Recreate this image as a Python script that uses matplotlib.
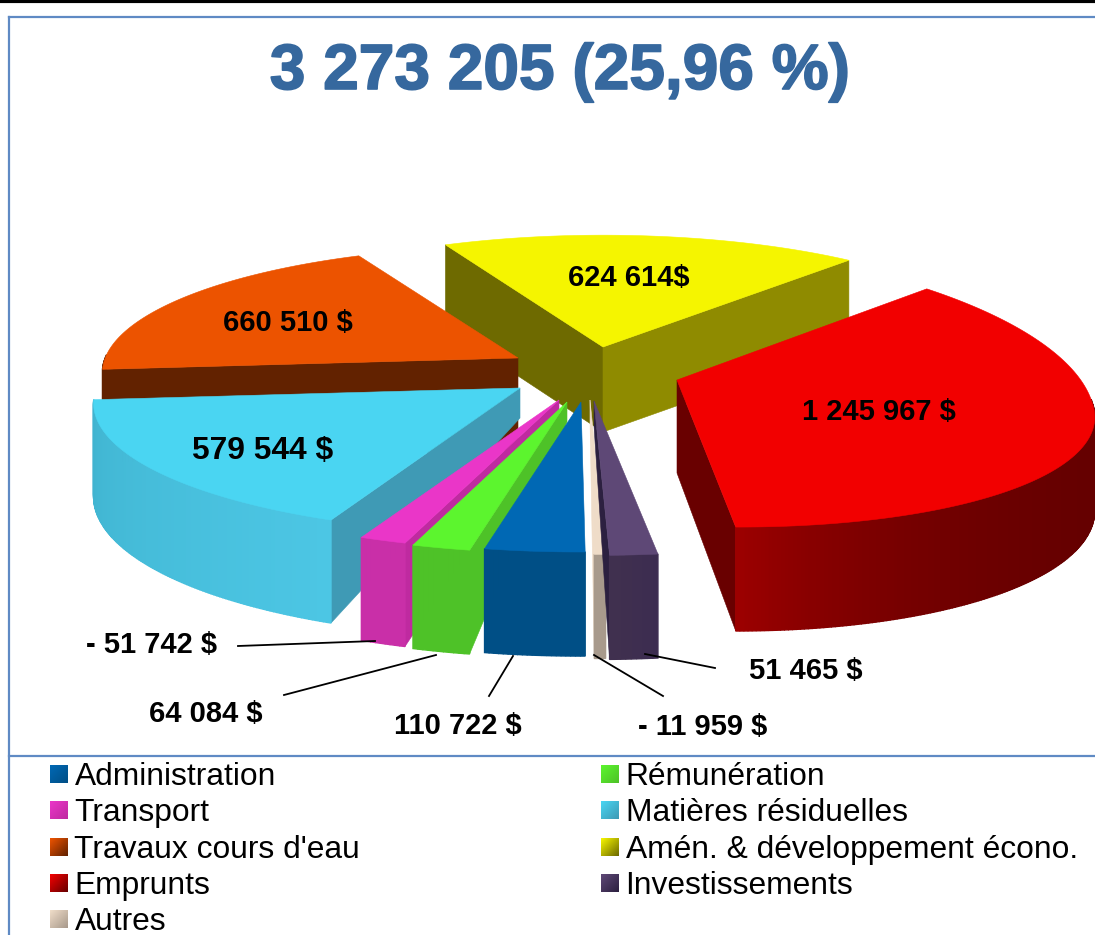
import numpy as np
import matplotlib
matplotlib.use("Agg")
import matplotlib.pyplot as plt
import matplotlib.patheffects as pe
from matplotlib.colors import to_rgb

plt.rcParams['font.family'] = ['Liberation Sans', 'DejaVu Sans']

# slices, clockwise from the top right edge of the red one
names = ["Emprunts", "Investissements", "Autres", "Administration", "Rémunération",
         "Transport", "Matières résiduelles", "Travaux cours d'eau",
         "Amén. & développement écono."]
values = [1245967, 51465, -11959, 110722, 64084, -51742, 579544, 660510, 624614]
labels = ["1 245 967 $", "51 465 $", "- 11 959 $", "110 722 $", "64 084 $",
          "- 51 742 $", "579 544 $", "660 510 $", "624 614$"]
legend_order = ["Administration", "Rémunération", "Transport", "Matières résiduelles",
                "Travaux cours d'eau", "Amén. & développement écono.", "Emprunts",
                "Investissements", "Autres"]
title = "3 273 205 (25,96 %)"

# colours
top_col = ["#f20000", "#5e4876", "#efdcc8", "#0068b4", "#5cf52e", "#ea36c8", "#4ad5f2", "#ec5300", "#f5f500"]
side_a = ["#640000", "#3c2c50", "#a89a8c", "#004f86", "#4ec228", "#c92fa8", "#4cc6e4", "#622200", "#8f8b00"]
side_b = ["#9c0000", "#40304f", "#a89a8c", "#004f86", "#4ec228", "#c92fa8", "#40b4d0", "#622200", "#8f8b00"]
wall_col = ["#690000", "#2c2040", "#a89a8c", "#004f86", "#4ec228", "#bf2aa0", "#3f9ab5", "#622200", "#6e6a00"]
wall_col2 = ["#690000", "#2c2040", "#efdcc8", "#004f86", "#4ec228", "#bf2aa0", "#3f9ab5", "#622200", "#8f8b00"]

# pie layout: where each exploded slice has its tip, in pixels
tip_x = [677, 594, 590, 581, 567, 559, 520, 518, 603]
tip_y = [380, 401, 400, 402, 402, 400, 388, 358, 347]
radius_x = [0.965, 1.05, 1.05, 1.02, 1.03, 1.03, 0.985, 0.96, 0.95]
radius_y = [0.99, 1.05, 1.05, 1.02, 1.03, 1.03, 0.99, 0.96, 0.96]
far_y = [1.18, 1, 1, 1, 1, 1, 1, 1, 1]
tilt = [22, 0, 0, 0, 0, 0, 0, 0, 0]
tip_depth = [93, 25, 20, 15, 20, 15, 30, 92, 85]
draw_order = [8, 7, 0, 6, 5, 4, 3, 2, 1]
start_angle = 49.1
RX, RY, PERSP, DEPTH = 430, 130, 0.116, 92

fig = plt.figure(figsize=(10.95, 9.35), dpi=100)
ax = fig.add_axes([0, 0, 1, 1])
ax.set_xlim(0, 1095)
ax.set_ylim(935, 0)
ax.axis("off")


def rim(i, th):
    w = 1 + PERSP * np.sin(th)
    x = tip_x[i] + radius_x[i] * RX * np.cos(th) / w
    ry = radius_y[i] * np.where(np.sin(th) > 0, far_y[i], 1)
    y = tip_y[i] - ry * RY * np.sin(th) / w + tilt[i] * np.cos(th)
    return x, y, DEPTH / w


def face(xs, ys, col, z=2, lw=0.4):
    ax.fill(xs, ys, color=col, lw=lw, zorder=z)


sweep = np.abs(values) / np.abs(values).sum() * 360
ends = start_angle - np.concatenate([[0], np.cumsum(sweep)])

for n, i in enumerate(draw_order):
    z = 2 + n
    a0, a1 = np.radians(ends[i]), np.radians(ends[i + 1])
    th = np.linspace(a0, a1, max(int(sweep[i]) * 2, 6))
    x, y, d = rim(i, th)
    mx, my = x[len(x) // 2], y[len(x) // 2]

    # the two flat walls, only if they look to the viewer
    for k, col in ((0, wall_col[i]), (-1, wall_col2[i])):
        dx = x[k] - tip_x[i]
        if abs(dx) < 1:
            continue
        line_y = tip_y[i] + (y[k] - tip_y[i]) * (mx - tip_x[i]) / dx
        if my < line_y:
            face([tip_x[i], x[k], x[k], tip_x[i]],
                 [tip_y[i], y[k], y[k] + d[k], tip_y[i] + tip_depth[i]], col, z)

    # curved side, strip by strip
    ca, cb = np.array(to_rgb(side_a[i])), np.array(to_rgb(side_b[i]))
    for j in range(len(th) - 1):
        if np.sin(th[j]) > 0.02:
            continue
        t = j / max(len(th) - 2, 1)
        if i == 0:
            t = t ** 6
        c = tuple(ca + (cb - ca) * t)
        face([x[j], x[j + 1], x[j + 1], x[j]],
             [y[j], y[j + 1], y[j + 1] + d[j + 1], y[j] + d[j]], c, z, lw=1.0)

    # top
    face(np.r_[tip_x[i], x], np.r_[tip_y[i], y], top_col[i], z)

# value labels
label_x = [879, 806, 703, 458, 206, 151, 263, 288, 629]
label_y = [412, 671, 727, 726, 714, 645, 451, 323, 278]
label_size = [21, 21, 21, 21, 21, 21, 22.9, 21, 21]
for lb, lx, ly, ls in zip(labels, label_x, label_y, label_size):
    ax.text(lx, ly, lb, ha="center", va="center", fontsize=ls, fontweight="bold",
            color="black", zorder=30)

# leader lines
ax.plot([238, 375], [646, 641], color="black", lw=1.3, zorder=30)
ax.plot([284, 436], [695, 655], color="black", lw=1.3, zorder=30)
ax.plot([489, 513], [696, 656], color="black", lw=1.3, zorder=30)
ax.plot([663, 594], [696, 655], color="black", lw=1.3, zorder=30)
ax.plot([715, 645], [668, 654], color="black", lw=1.3, zorder=30)

tt = ax.text(560, 72, title, ha="center", va="center", fontsize=46.1, fontweight="bold",
             color="#36689e", zorder=30)
tt.set_path_effects([pe.withStroke(linewidth=1.2, foreground="#36689e")])

# frame
ax.plot([0, 1095], [1, 1], color="black", lw=3, zorder=40)
frame_col = "#5f8ac4"
ax.plot([9, 9], [17, 935], color=frame_col, lw=1.6, zorder=40)
ax.plot([9, 1095], [17, 17], color=frame_col, lw=1.6, zorder=40)
ax.plot([9, 1095], [756, 756], color=frame_col, lw=1.6, zorder=40)

# legend
leg_x = [50, 601]
leg_y = [774, 810, 847, 883, 919]
gx, gy = np.meshgrid(np.linspace(0, 1, 18), np.linspace(0, 1, 18))
grad = ((gx + gy) / 2)[:, :, None]
for n, nm in enumerate(legend_order):
    i = names.index(nm)
    lx, ly = leg_x[n % 2], leg_y[n // 2]
    img = np.array(to_rgb(top_col[i])) * (1 - grad) + np.array(to_rgb(wall_col[i])) * grad
    ax.imshow(img, extent=[lx, lx + 18, ly + 9, ly - 9], aspect="auto", zorder=30,
              interpolation="bilinear")
    ax.text(lx + 24.5, ly + 3, nm, ha="left", va="center", fontsize=22.9, color="black", zorder=30)

ax.set_xlim(0, 1095)
ax.set_ylim(935, 0)
fig.savefig("out.png", dpi=100, facecolor="white")
